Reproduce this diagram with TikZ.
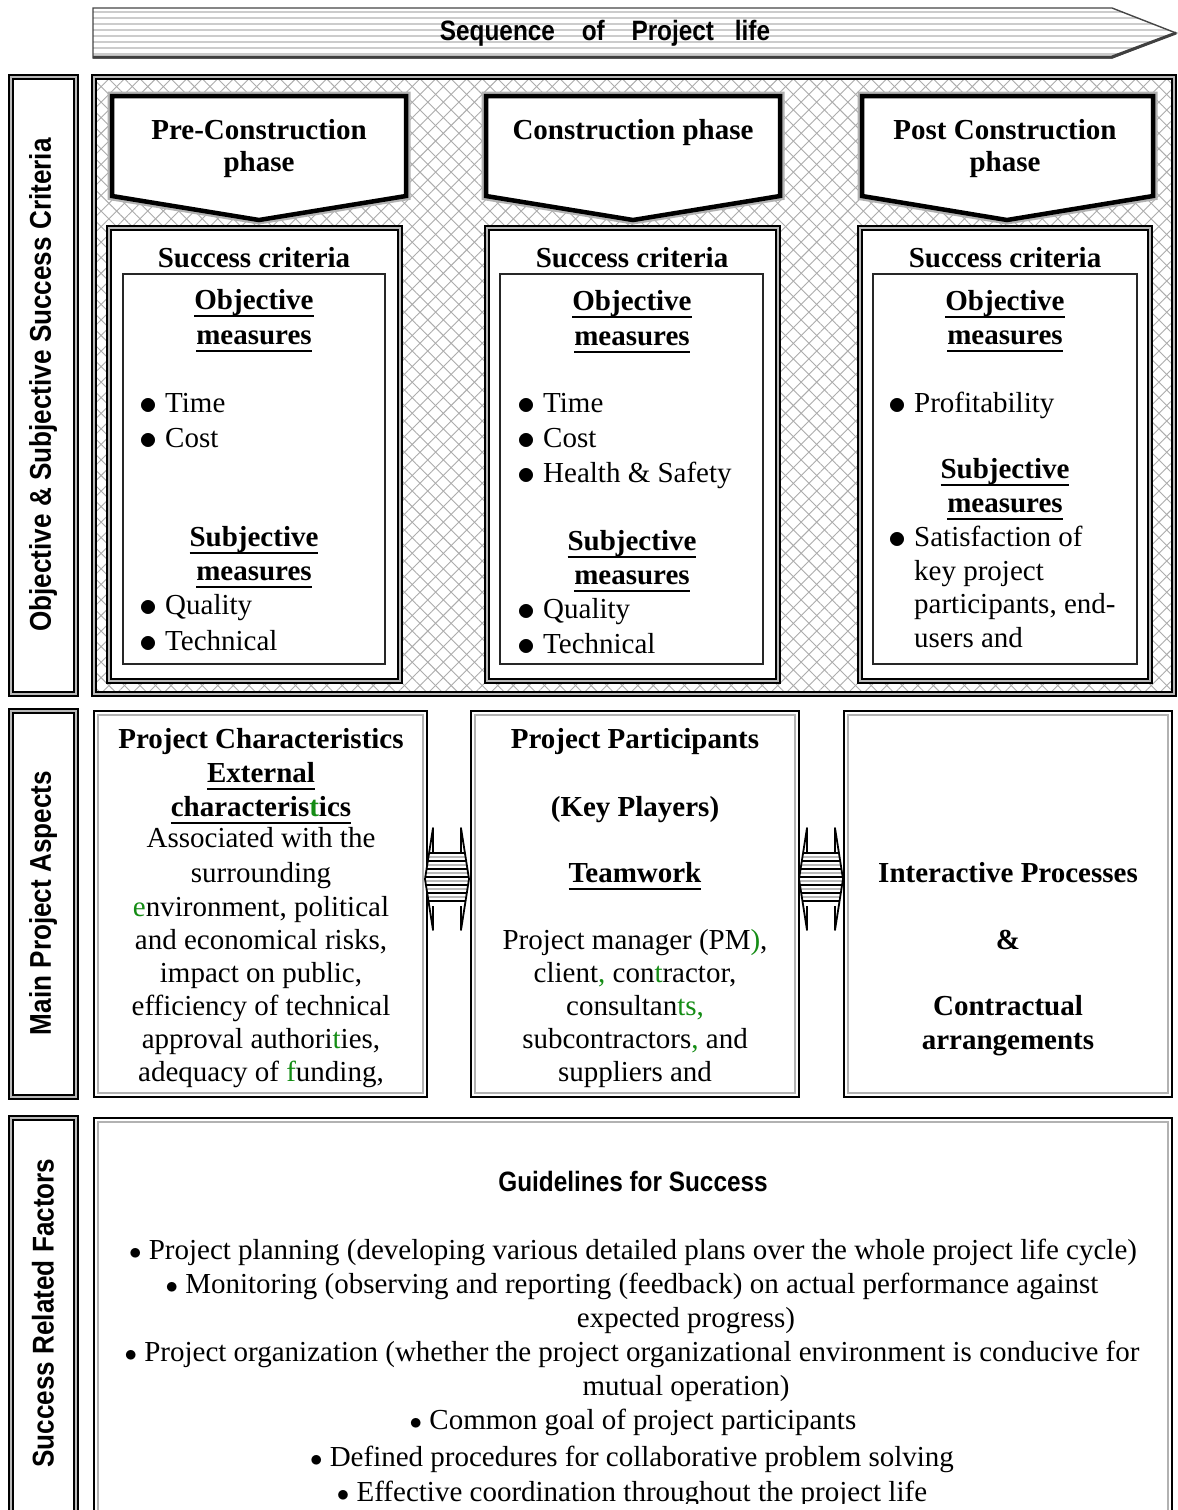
\documentclass[tikz,border=0pt]{standalone}
\usepackage{fontspec}
\usepackage{graphicx}
\setmainfont{Liberation Serif}
\newfontfamily\condbf[FakeStretch=0.87]{Liberation Sans}
\usetikzlibrary{patterns.meta}
\definecolor{grn}{RGB}{20,140,20}
\tikzset{
  t/.style={inner sep=0pt, anchor=base, font=\fontsize{29}{34}\selectfont},
  tb/.style={inner sep=0pt, anchor=base, font=\fontsize{29}{34}\selectfont\bfseries},
  tl/.style={inner sep=0pt, anchor=base west, font=\fontsize{29}{34}\selectfont},
  cb/.style={inner sep=0pt, font=\fontsize{30}{34}\selectfont\condbf\bfseries},
  cbh/.style={inner sep=0pt, font=\fontsize{28}{34}\selectfont\condbf\bfseries},
  obox/.style={draw=black, line width=1.3pt, double=gray!55, double distance=2.5pt},
  phase/.style={fill=white, draw=black, line width=4.5pt, line join=miter},
  phasehalo/.style={draw=gray!60, line width=9pt, line join=miter},
  outerk/.style={draw=black, line width=2.5pt},
  innerg/.style={draw=gray!60, line width=2pt},
  hatch/.style={pattern={Lines[angle=45,distance=11pt,line width=0.9pt]}, pattern color=gray!65},
  hatchb/.style={pattern={Lines[angle=-45,distance=11pt,line width=0.9pt]}, pattern color=gray!65},
}
\newcommand{\bigbul}{\raisebox{-2.5pt}{\scalebox{1.45}{$\bullet$}}}
\newcommand{\bul}{\makebox[24pt][l]{\hspace{-2pt}\bigbul}}
\newcommand{\ulx}[1]{\setbox0=\hbox{#1}\rlap{\rule[-8pt]{\wd0}{2.2pt}}\box0}
\newcommand{\dblarrow}[2]{%
  \begin{scope}
    \path[fill=white] (#1-14,#2-27) -- (#1-14,#2-51) -- (#1-22,#2) -- (#1-14,#2+51) -- (#1-14,#2+27)
      -- (#1+14,#2+27) -- (#1+14,#2+51) -- (#1+22,#2) -- (#1+14,#2-51) -- (#1+14,#2-27) -- cycle;
    \begin{scope}
      \clip (#1-14,#2-27) -- (#1-14,#2-51) -- (#1-22,#2) -- (#1-14,#2+51) -- (#1-14,#2+27)
        -- (#1+14,#2+27) -- (#1+14,#2+51) -- (#1+22,#2) -- (#1+14,#2-51) -- (#1+14,#2-27) -- cycle;
      \foreach \k in {-26,-18,...,26} {\draw[black, line width=2pt] (#1-25,#2+\k) -- (#1+25,#2+\k);}
      \foreach \k in {-22,-14,...,22} {\draw[gray!55, line width=2pt] (#1-25,#2+\k) -- (#1+25,#2+\k);}
    \end{scope}
    \draw[black, line width=1.8pt, line join=round] (#1-14,#2-27) -- (#1-14,#2-51) -- (#1-22,#2) -- (#1-14,#2+51) -- (#1-14,#2+27)
      (#1+14,#2+27) -- (#1+14,#2+51) -- (#1+22,#2) -- (#1+14,#2-51) -- (#1+14,#2-27);
  \end{scope}}
\begin{document}
\begin{tikzpicture}[x=1pt,y=-1pt]
\useasboundingbox[fill=white] (0,0) rectangle (1178,1510);

% ---------- top arrow ----------
\begin{scope}
  \clip (93,8) -- (1112,8) -- (1176,33) -- (1112,58) -- (93,58) -- cycle;
  \fill[white] (93,8) rectangle (1178,58);
  \foreach \yy in {12,18,...,56} {\draw[gray!40, line width=2.6pt] (93,\yy) -- (1178,\yy);}
\end{scope}
\draw[gray!55!black, line width=1.4pt, line join=miter] (93,58) -- (93,8) -- (1112,8) -- (1176,33) -- (1112,58) -- cycle;
\draw[gray!50!black, line width=3pt] (93,57) -- (1112,57) -- (1176,33);
\node[cbh] (seq) at (605,33) {Sequence\hspace{20pt} of\hspace{20pt} Project\hspace{14pt} life};

% ---------- left labels ----------
\draw[obox] (11,77) rectangle (76,694);
\draw[obox] (11,711) rectangle (76,1097);
\draw[obox] (11,1118) rectangle (76,1530);
\node[cb, rotate=90] (lab1) at (43,385) {Objective \& Subjective Success Criteria};
\node[cb, rotate=90] (lab2) at (43,903) {Main Project Aspects};
\node[cb, rotate=90] (lab3) at (43,1313) {Success Related Factors};

% ---------- hatched region ----------
\fill[white] (93,76) rectangle (1175,695);
\fill[hatch] (93,76) rectangle (1175,695);
\fill[hatchb] (93,76) rectangle (1175,695);
\draw[obox] (94,77) rectangle (1174,694);

% ---------- phase arrows ----------
\foreach \xa/\xb/\xm in {112/406/259, 486/780/633, 862/1153/1007} {
  \draw[phasehalo] (\xa,96) -- (\xb,96) -- (\xb,196) -- (\xm,220) -- (\xa,196) -- cycle;
  \draw[phase] (\xa,96) -- (\xb,96) -- (\xb,196) -- (\xm,220) -- (\xa,196) -- cycle;
}
\coordinate (tip1) at (259,220);
\coordinate (tip2) at (633,220);
\coordinate (tip3) at (1007,220);
\node[tb] (ph1a) at (259,139) {Pre-Construction};
\node[tb] (ph1b) at (259,171) {phase};
\node[tb] (ph2a) at (633,139) {Construction phase};
\node[tb] (ph3a) at (1005,139) {Post Construction};
\node[tb] (ph3b) at (1005,171) {phase};

% ---------- success criteria boxes ----------
\foreach \xa/\xb/\ia/\ib in {107/402/123/385, 485/780/500/763, 858/1152/873/1137} {
  \fill[white] (\xa,226) rectangle (\xb,683);
  \draw[obox] (\xa+2,228) rectangle (\xb-2,681);
  \draw[black!85, line width=2pt] (\ia,274) rectangle (\ib,664);
}
% pre
\node[tb] (sc1) at (254,267) {Success criteria};
\node[tb] (om1a) at (254,309) {\ulx{Objective}};
\node[tb] (om1b) at (254,344) {\ulx{measures}};
\node[tl] (b1a) at (141,412) {\bul Time};
\node[tl] (b1b) at (141,447) {\bul Cost};
\node[tb] (sm1a) at (254,546) {\ulx{Subjective}};
\node[tb] (sm1b) at (254,580) {\ulx{measures}};
\node[tl] (b1c) at (141,614) {\bul Quality};
\node[tl] (b1d) at (141,650) {\bul Technical};
% construction
\node[tb] (sc2) at (632,267) {Success criteria};
\node[tb] (om2a) at (632,310) {\ulx{Objective}};
\node[tb] (om2b) at (632,345) {\ulx{measures}};
\node[tl] (b2a) at (519,412) {\bul Time};
\node[tl] (b2b) at (519,447) {\bul Cost};
\node[tl] (b2c) at (519,482) {\bul Health \& Safety};
\node[tb] (sm2a) at (632,550) {\ulx{Subjective}};
\node[tb] (sm2b) at (632,584) {\ulx{measures}};
\node[tl] (b2d) at (519,618) {\bul Quality};
\node[tl] (b2e) at (519,653) {\bul Technical};
% post
\node[tb] (sc3) at (1005,267) {Success criteria};
\node[tb] (om3a) at (1005,310) {\ulx{Objective}};
\node[tb] (om3b) at (1005,344) {\ulx{measures}};
\node[tl] (b3a) at (890,412) {\bul Profitability};
\node[tb] (sm3a) at (1005,478) {\ulx{Subjective}};
\node[tb] (sm3b) at (1005,512) {\ulx{measures}};
\node[tl] (b3b) at (890,546) {\bul Satisfaction of};
\node[tl] (b3c) at (914,580) {key project};
\node[tl] (b3d) at (914,613) {participants, end-};
\node[tl] (b3e) at (914,647) {users and};

% ---------- main project aspects ----------
\foreach \xa/\xb in {93/428, 470/800, 843/1173} {
  \fill[white] (\xa,710) rectangle (\xb,1098);
  \draw[outerk] (\xa+1,711) rectangle (\xb-1,1097);
  \draw[innerg] (\xa+5,715) rectangle (\xb-5,1093);
}
\coordinate (pc) at (261,904);
\coordinate (pp) at (635,904);
\coordinate (ip) at (1008,904);
\begin{scope}
  \clip (97,714) rectangle (424,1087);
  \node[tb] (pc1) at (261,748) {Project Characteristics};
  \node[tb] (pc2) at (261,782) {\ulx{External}};
  \node[tb] (pc3) at (261,816) {\ulx{characteris\textcolor{grn}{t}ics}};
  \node[t] (pc4) at (261,847) {Associated with the};
  \node[t] (pc5) at (261,882) {surrounding};
  \node[t] (pc6) at (261,916) {\textcolor{grn}{e}nvironment, political};
  \node[t] (pc7) at (261,949) {and economical risks,};
  \node[t] (pc8) at (261,982) {impact on public,};
  \node[t] (pc9) at (261,1015) {efficiency of technical};
  \node[t] (pc10) at (261,1048) {approval authori\textcolor{grn}{t}ies,};
  \node[t] (pc11) at (261,1081) {adequacy of \textcolor{grn}{f}unding,};
\end{scope}
\begin{scope}
  \clip (474,714) rectangle (796,1087);
  \node[tb] (pp1) at (635,748) {Project Participants};
  \node[tb] (pp2) at (635,816) {(Key Players)};
  \node[tb] (pp3) at (635,882) {\ulx{Teamwork}};
  \node[t] (pp4) at (635,949) {Project manager (PM\textcolor{grn}{)},};
  \node[t] (pp5) at (635,982) {client\textcolor{grn}{,} con\textcolor{grn}{t}ractor,};
  \node[t] (pp6) at (635,1015) {consultan\textcolor{grn}{ts,}};
  \node[t] (pp7) at (635,1048) {subcontractors\textcolor{grn}{,} and};
  \node[t] (pp8) at (635,1081) {suppliers and};
\end{scope}
\node[tb] (ip1) at (1008,882) {Interactive Processes};
\node[tb] (ip2) at (1008,949) {\&};
\node[tb] (ip3) at (1008,1015) {Contractual};
\node[tb] (ip4) at (1008,1049) {arrangements};

\dblarrow{447}{879}
\dblarrow{821}{879}

% ---------- guidelines ----------
\fill[white] (93,1117) rectangle (1173,1530);
\draw[outerk] (94,1118) rectangle (1172,1530);
\draw[innerg] (98,1122) rectangle (1168,1530);
\node[cbh] (g0) at (633,1181) {Guidelines for Success};
\begin{scope}
  \clip (99,1123) rectangle (1167,1503);
  \node[t] (g1) at (633,1259) {$\bullet$ Project planning (developing various detailed plans over the whole project life cycle)};
  \node[t] (g2) at (632,1293) {$\bullet$ Monitoring (observing and reporting (feedback) on actual performance against};
  \node[t] (g3) at (686,1327) {expected progress)};
  \node[t] (g4) at (632,1361) {$\bullet$ Project organization (whether the project organizational environment is conducive for};
  \node[t] (g5) at (686,1395) {mutual operation)};
  \node[t] (g6) at (633,1429) {$\bullet$ Common goal of project participants};
  \node[t] (g7) at (632,1466) {$\bullet$ Defined procedures for collaborative problem solving};
  \node[t] (g8) at (632,1501) {$\bullet$ Effective coordination throughout the project life};
\end{scope}
\end{tikzpicture}
\end{document}
